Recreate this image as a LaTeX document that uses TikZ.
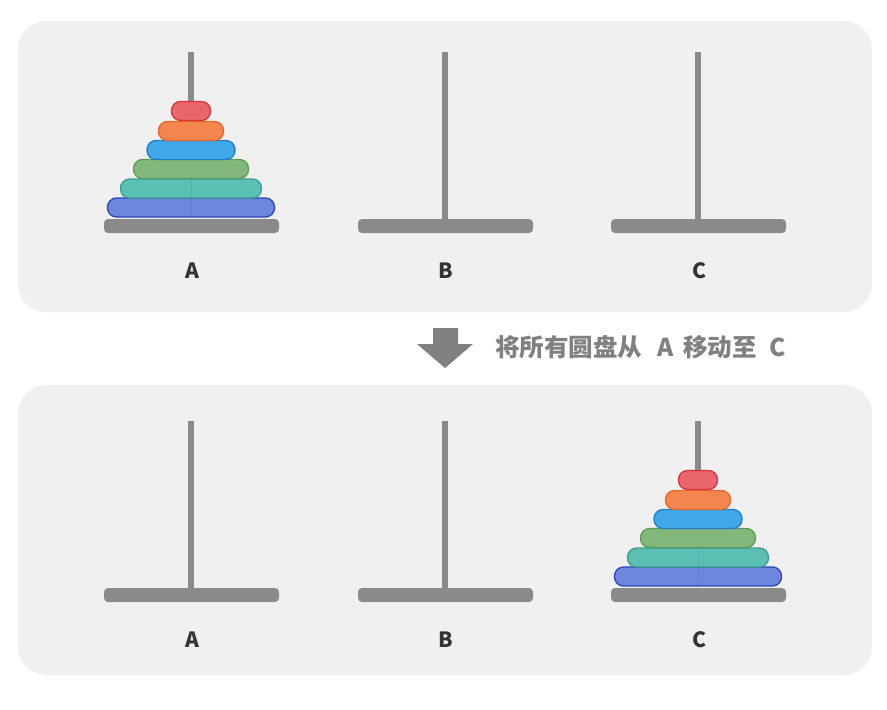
\documentclass[tikz,border=0pt]{standalone}
\usepackage{fontspec}
\newfontfamily\cjk{Noto Sans CJK SC}
\definecolor{panel}{HTML}{F0F0F0}
\definecolor{rodgray}{HTML}{8A8A8A}
\definecolor{lbl}{HTML}{333333}
\definecolor{capt}{HTML}{808080}
\definecolor{dRedF}{HTML}{E9666C}\definecolor{dRedD}{HTML}{D8333A}
\definecolor{dOrF}{HTML}{F5854F}\definecolor{dOrD}{HTML}{E4672C}
\definecolor{dBlF}{HTML}{40A8E8}\definecolor{dBlD}{HTML}{1E7DC8}
\definecolor{dGrF}{HTML}{82B87C}\definecolor{dGrD}{HTML}{5E9A58}
\definecolor{dTeF}{HTML}{5BBFB3}\definecolor{dTeD}{HTML}{3C9D92}
\definecolor{dInF}{HTML}{6D86DE}\definecolor{dInD}{HTML}{2B44B6}
\tikzset{
  panelbox/.style={fill=panel, draw=none, rounded corners=28pt},
  basebox/.style={fill=rodgray, draw=none, rounded corners=4pt},
  disk/.style={draw, line width=1.3pt, rounded corners=9pt, minimum height=19pt, inner sep=0pt},
  peglabel/.style={font=\cjk\bfseries\fontsize{21}{21}\selectfont, text=lbl, inner sep=0pt},
}
\newcommand\hpeg[4]{% x, dy, label, rod bottom
  \fill[rodgray] (#1-3,52+#2) rectangle (#1+3,#4+#2);
  \node[basebox, minimum width=175pt, minimum height=14pt, inner sep=0pt] (base#3#2) at (#1+0.5,226+#2) {};
  \node[peglabel] (lab#3#2) at (#1+1,271+#2) {#3};
}
\newcommand\htower[3]{% x, dy, name
  \node[disk, fill=dInF, draw=dInD, minimum width=167pt] (#3a) at (#1,207.5+#2) {};
  \node[disk, fill=dTeF, draw=dTeD, minimum width=141pt] (#3b) at (#1,188.5+#2) {};
  \node[disk, fill=dGrF, draw=dGrD, minimum width=115pt] (#3c) at (#1,169+#2) {};
  \node[disk, fill=dBlF, draw=dBlD, minimum width=88pt] (#3d) at (#1,150+#2) {};
  \node[disk, fill=dOrF, draw=dOrD, minimum width=65pt] (#3e) at (#1,131+#2) {};
  \node[disk, fill=dRedF, draw=dRedD, minimum width=39pt] (#3f) at (#1,111+#2) {};
  \draw[dInD, opacity=0.2, line width=0.6pt, dash pattern=on 1.5pt off 1.5pt] (#3b.north) -- (#3a.south);
}
\begin{document}
\begin{tikzpicture}[x=1pt,y=-1pt]
\useasboundingbox[fill=white] (0,0) rectangle (887,710);
% panels
\node[panelbox, minimum width=854pt, minimum height=291pt, inner sep=0pt] (toppanel) at (445,166.5) {};
\node[panelbox, minimum width=854pt, minimum height=290pt, inner sep=0pt] (botpanel) at (445,530) {};
% top panel
\hpeg{191}{0}{A}{110}
\hpeg{445}{0}{B}{224}
\hpeg{698}{0}{C}{224}
\htower{191}{0}{t}
% bottom panel
\hpeg{191}{369}{A}{224}
\hpeg{445}{369}{B}{224}
\hpeg{698}{369}{C}{110}
\htower{698}{369}{u}
% arrow
\fill[capt] (433,328) -- (458,328) -- (458,344) -- (473,344) -- (445,368) -- (417,344) -- (433,344) -- cycle;
\node[anchor=west, inner sep=0pt, text=capt, font=\cjk\bfseries\fontsize{24.5}{24.5}\selectfont] (caption) at (495,347)
  {将所有圆盘从\hspace{15pt}A\hspace{10pt}移动至\hspace{13pt}C};
\end{tikzpicture}
\end{document}
